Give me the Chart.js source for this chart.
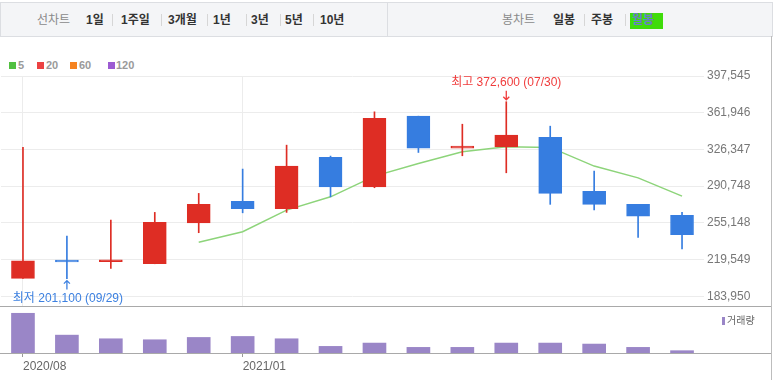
<!DOCTYPE html>
<html>
<head>
<meta charset="utf-8">
<script src="https://cdn.jsdelivr.net/npm/chart.js@4/dist/chart.umd.min.js"></script>
<style>
  body { margin: 0; width: 773px; height: 380px; position: relative; overflow: hidden; background: #fff;
         font-family: "Liberation Sans", "Noto Sans CJK KR", sans-serif; }
  .abs { position: absolute; }
  .bar { left: 0; top: 2px; width: 771px; height: 33px; background: #f4f5f7; border: 1px solid #dcdee2; }
  .t { top: 12px; height: 16px; line-height: 16px; font-size: 12px; font-weight: bold; color: #333; white-space: nowrap; }
  .t.g { font-weight: normal; color: #8a8a8a; }
  .sep { top: 14px; width: 1px; height: 12px; background: #d6d6d6; }
  .lg { top: 58px; height: 14px; line-height: 14px; font-size: 11px; font-weight: bold; color: #9a9a9a; }
  .sq { top: 62px; width: 7px; height: 7px; }
  .hl { height: 1px; background: #a9a9a9; }
</style>
</head>
<body>
<div class="abs bar"></div>
<div class="abs" style="left:387px;top:3px;width:1px;height:33px;background:#dcdee2"></div>

<span class="abs t g" style="left:37px">선차트</span>
<span class="abs t" style="left:86px">1일</span>
<div class="abs sep" style="left:112px"></div>
<span class="abs t" style="left:121px">1주일</span>
<div class="abs sep" style="left:161px"></div>
<span class="abs t" style="left:168px">3개월</span>
<div class="abs sep" style="left:207px"></div>
<span class="abs t" style="left:213px">1년</span>
<div class="abs sep" style="left:246px"></div>
<span class="abs t" style="left:251px">3년</span>
<div class="abs sep" style="left:280px"></div>
<span class="abs t" style="left:285px">5년</span>
<div class="abs sep" style="left:313px"></div>
<span class="abs t" style="left:320px">10년</span>

<span class="abs t g" style="left:502px">봉차트</span>
<span class="abs t" style="left:553px">일봉</span>
<div class="abs sep" style="left:584px"></div>
<span class="abs t" style="left:591px">주봉</span>
<div class="abs sep" style="left:625px"></div>
<div class="abs" style="left:630px;top:13px;width:33px;height:16px;background:#3fdc0a"></div>
<span class="abs t" style="left:632px;color:#6a7ccc">월봉</span>

<div class="abs sq" style="left:9px;background:#52c040"></div>
<span class="abs lg" style="left:18px">5</span>
<div class="abs sq" style="left:37px;background:#ec4242"></div>
<span class="abs lg" style="left:46px">20</span>
<div class="abs sq" style="left:70px;background:#f6831f"></div>
<span class="abs lg" style="left:79px">60</span>
<div class="abs sq" style="left:108px;background:#9c5bd2"></div>
<span class="abs lg" style="left:116px">120</span>

<canvas id="price" class="abs" style="left:0;top:70px" width="773" height="237"></canvas>
<canvas id="volume" class="abs" style="left:0;top:307px" width="773" height="73"></canvas>

<div class="abs hl" style="left:0;top:306px;width:771px"></div>
<div class="abs hl" style="left:0;top:353px;width:771px"></div>
<div class="abs" style="left:771px;top:36px;width:1px;height:344px;background:#bdbdbd"></div>
<div class="abs" style="left:722px;top:317px;width:3px;height:8px;background:#9a86c7"></div>
<span class="abs" style="left:727px;top:314px;font-size:10px;line-height:13px;color:#666">거래량</span>

<script>
// 월봉 (2020/08 ~ 2021/11)
const labels = ["2020/08", "2020/09", "2020/10", "2020/11", "2020/12", "2021/01", "2021/02", "2021/03",
                "2021/04", "2021/05", "2021/06", "2021/07", "2021/08", "2021/09", "2021/10", "2021/11"];
const opens  = [201400, 219000, 217600, 215500, 255000, 276000, 268800, 318600, 290100, 358600, 327600, 328900, 338000, 285700, 273100, 262400];
const highs  = [328300, 242400, 257900, 265300, 283700, 307300, 330500, 319900, 362800, 358600, 350800, 372600, 348900, 305300, 273100, 265300];
const lows   = [201400, 201100, 211100, 215500, 245600, 264900, 265300, 280400, 289200, 323400, 320200, 303700, 273100, 267600, 241100, 229800];
const closes = [218400, 217200, 219400, 255600, 273000, 268800, 310200, 290100, 356400, 327600, 329500, 340200, 283700, 273100, 261700, 243600];
const ma5    = [null, null, null, null, 236300, 246500, 267500, 280400, 300500, 312800, 324000, 328900, 328300, 310200, 298800, 281100];
const volumes = [1200, 540, 430, 400, 470, 500, 430, 200, 300, 170, 170, 300, 300, 270, 170, 70];
const yTicks = [183950, 219549, 255148, 290748, 326347, 361946, 397545];
const xTickIdx = [0, 5];
const hiDate = "07/30";
const loDate = "09/29";

const RED = "#de2d24", BLUE = "#367de0";
const candleColors = opens.map((o, i) => closes[i] >= opens[i] ? RED : BLUE);
const hiIdx = highs.indexOf(Math.max(...highs));
const loIdx = lows.indexOf(Math.min(...lows));
const fmt = v => v.toLocaleString("en-US");

function arrow(ctx, x, from, to) {
  const d = to > from ? 1 : -1;
  ctx.beginPath();
  ctx.moveTo(x, from);
  ctx.lineTo(x, to);
  ctx.moveTo(x - 3, to - 3 * d);
  ctx.lineTo(x, to);
  ctx.lineTo(x + 3, to - 3 * d);
  ctx.stroke();
}

// 축 라벨 때문에 생기는 여백 제거
function noPad(s) {
  s.paddingTop = 0; s.paddingBottom = 0; s.paddingLeft = 0; s.paddingRight = 0;
}

// 최고/최저 표시
const marks = {
  id: "marks",
  afterDatasetsDraw(chart) {
    const { ctx, scales: { x, y } } = chart;
    ctx.save();
    ctx.font = '12px "Liberation Sans", "Noto Sans CJK KR", sans-serif';
    ctx.textAlign = "center";
    ctx.textBaseline = "middle";
    ctx.lineWidth = 1.3;

    const hx = x.getPixelForValue(hiIdx), hy = y.getPixelForValue(highs[hiIdx]);
    ctx.fillStyle = ctx.strokeStyle = "#f03c3c";
    ctx.fillText("최고 " + fmt(highs[hiIdx]) + " (" + hiDate + ")", hx, hy - 19);
    arrow(ctx, hx, hy - 11, hy - 2);

    const lx = x.getPixelForValue(loIdx), ly = y.getPixelForValue(lows[loIdx]);
    ctx.fillStyle = ctx.strokeStyle = "#3c80e0";
    ctx.fillText("최저 " + fmt(lows[loIdx]) + " (" + loDate + ")", lx + 1, ly + 20);
    arrow(ctx, lx, ly + 11, ly + 2);
    ctx.restore();
  }
};

new Chart(document.getElementById("price"), {
  type: "bar",
  data: {
    labels: labels,
    datasets: [
      {
        type: "line",
        data: ma5,
        borderColor: "#8dd47a",
        borderWidth: 1.5,
        pointRadius: 0,
        tension: 0,
        order: 3,
      },
      {
        data: labels.map((_, i) => [lows[i], highs[i]]),
        backgroundColor: candleColors,
        barThickness: 1,
        grouped: false,
        order: 2,
      },
      {
        data: labels.map((_, i) => [opens[i], closes[i]]),
        backgroundColor: candleColors,
        borderColor: candleColors,
        borderWidth: 1,
        borderSkipped: false,
        barThickness: 23,
        grouped: false,
        order: 1,
      },
    ],
  },
  options: {
    responsive: false,
    animation: false,
    layout: { padding: { top: 6, left: 1, right: 0, bottom: 0 } },
    plugins: { legend: { display: false }, tooltip: { enabled: false } },
    scales: {
      x: {
        offset: true,
        ticks: { display: false },
        border: { display: false },
        grid: {
          offset: false,
          drawTicks: false,
          color: c => xTickIdx.includes(c.index) ? "#ececec" : "rgba(0,0,0,0)",
        },
        afterFit: s => { s.height = 0; noPad(s); },
      },
      y: {
        position: "right",
        min: 173576,
        max: 397545,
        afterBuildTicks: s => { s.ticks = yTicks.map(v => ({ value: v })); },
        afterFit: s => { s.width = 69; noPad(s); },
        border: { display: false },
        grid: { color: "#ececec", drawTicks: false },
        ticks: {
          padding: 3,
          color: "#777",
          font: { family: "Liberation Sans", size: 12 },
          callback: v => fmt(v),
        },
      },
    },
  },
  plugins: [marks],
});

new Chart(document.getElementById("volume"), {
  type: "bar",
  data: {
    labels: labels,
    datasets: [{ data: volumes, backgroundColor: "#9a86c7", barThickness: 23 }],
  },
  options: {
    responsive: false,
    animation: false,
    layout: { padding: { top: 0, left: 1, right: 0, bottom: 0 } },
    plugins: { legend: { display: false }, tooltip: { enabled: false } },
    scales: {
      x: {
        offset: true,
        border: { display: false },
        grid: {
          offset: false,
          drawOnChartArea: false,
          tickLength: 4,
          color: c => xTickIdx.includes(c.index) ? "#999" : "rgba(0,0,0,0)",
        },
        ticks: {
          autoSkip: false,
          maxRotation: 0,
          align: "start",
          padding: 2,
          color: "#666",
          font: { family: "Liberation Sans", size: 12 },
          callback: (v, i) => xTickIdx.includes(i) ? labels[i] : "",
        },
        afterFit: s => { s.height = 27; noPad(s); },
      },
      y: {
        position: "right",
        min: 0,
        max: 1390,
        ticks: { display: false },
        grid: { display: false },
        border: { display: false },
        afterFit: s => { s.width = 69; noPad(s); },
      },
    },
  },
});
</script>
</body>
</html>
